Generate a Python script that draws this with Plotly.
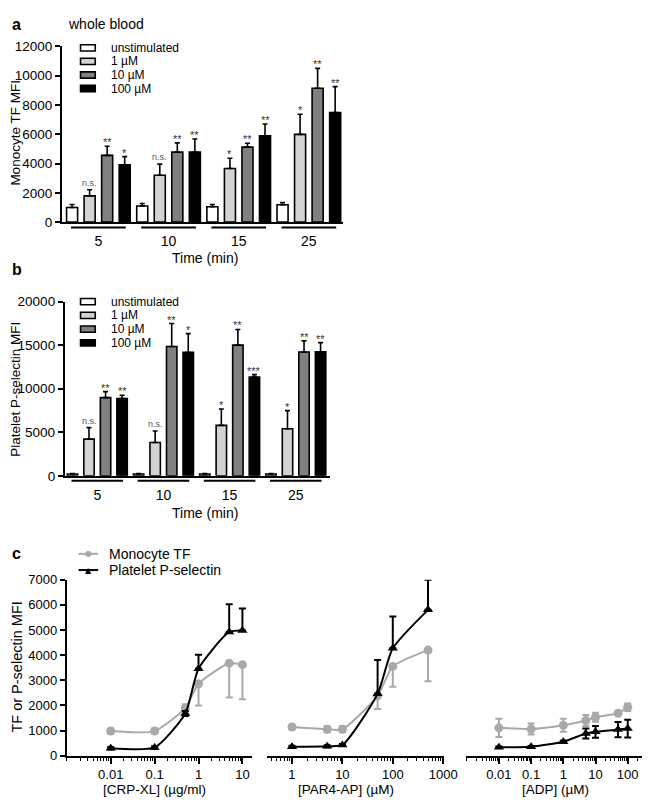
import plotly.graph_objects as go

W, H = 657, 811
OFF = 8  # page body margin offset of the rendered figure


def px_x(p):
    return (p - OFF) / W


def px_y(p):
    return 1 - (p - OFF) / H


FONT = "Arial, Liberation Sans, sans-serif"

# ---------------- data ----------------
time_labels = ["5", "10", "15", "25"]
conc_labels = ["unstimulated", "1 µM", "10 µM", "100 µM"]
bar_colors = ["#ffffff", "#d3d3d3", "#808080", "#000000"]

# panel a : Monocyte TF MFI (whole blood)
a_unstim = [1000, 1100, 1050, 1180]
a_unstim_err = [200, 170, 150, 150]
a_1uM = [1790, 3200, 3660, 5990]
a_1uM_err = [420, 760, 700, 1380]
a_10uM = [4560, 4780, 5120, 9140]
a_10uM_err = [620, 630, 270, 1360]
a_100uM = [3910, 4780, 5900, 7490]
a_100uM_err = [560, 900, 800, 1760]
a_sig_1uM = ["n.s.", "n.s.", "*", "*"]
a_sig_10uM = ["**", "**", "**", "**"]
a_sig_100uM = ["*", "**", "**", "**"]

# panel b : Platelet P-selectin MFI
b_unstim = [200, 200, 200, 200]
b_unstim_err = [60, 60, 60, 60]
b_1uM = [4210, 3830, 5790, 5410]
b_1uM_err = [1320, 1320, 1880, 2070]
b_10uM = [8980, 14850, 15000, 14210]
b_10uM_err = [680, 2630, 1800, 1280]
b_100uM = [8870, 14170, 11350, 14240]
b_100uM_err = [380, 2150, 270, 1050]
b_sig_1uM = ["n.s.", "n.s.", "*", "*"]
b_sig_10uM = ["**", "**", "**", "**"]
b_sig_100uM = ["**", "*", "***", "**"]

# panel c : concentration responses
crp_conc = [0.01, 0.1, 0.5, 1, 5, 10]
crp_tf = [980, 980, 1900, 2860, 3680, 3620]
crp_tf_err_up = [100, 100, 150, 0, 0, 0]
crp_tf_err_down = [100, 100, 150, 860, 1365, 1370]
crp_ps = [300, 330, 1680, 3460, 4920, 4980]
crp_ps_err_up = [50, 50, 100, 550, 1100, 870]
crp_ps_err_down = [50, 50, 100, 0, 0, 0]

par4_conc = [1, 5, 10, 50, 100, 500]
par4_tf = [1140, 1050, 1050, 2380, 3550, 4200]
par4_tf_err_up = [100, 120, 120, 0, 0, 0]
par4_tf_err_down = [100, 120, 120, 520, 805, 1235]
par4_ps = [360, 380, 430, 2460, 4270, 5800]
par4_ps_err_up = [40, 40, 40, 1350, 1270, 1200]
par4_ps_err_down = [40, 40, 40, 0, 0, 0]

adp_conc = [0.01, 0.1, 1, 5, 10, 50, 100]
adp_tf = [1110, 1060, 1210, 1400, 1530, 1690, 1930]
adp_tf_err = [360, 220, 260, 215, 180, 40, 150]
adp_ps = [340, 360, 560, 885, 950, 1040, 1080]
adp_ps_err = [30, 30, 40, 200, 230, 300, 350]

series_labels = ["Monocyte TF", "Platelet P-selectin"]
tf_color = "#a9a9a9"
ps_color = "#000000"

crp_ticks = [0.01, 0.1, 1, 10]
crp_ticktext = ["0.01", "0.1", "1", "10"]
par4_ticks = [1, 10, 100, 1000]
par4_ticktext = ["1", "10", "100", "1000"]
adp_ticks = [0.01, 0.1, 1, 10, 100]
adp_ticktext = ["0.01", "0.1", "1", "10", "100"]

# ---------------- figure ----------------
fig = go.Figure()
annotations = []
shapes = []

bar_offsets = [-0.375, -0.125, 0.125, 0.375]


def add_bar_panel(xa, ya, means, errs, sigs):
    for i, (m, e) in enumerate(zip(means, errs)):
        fig.add_trace(go.Bar(
            x=time_labels, y=m, name=conc_labels[i],
            marker=dict(color=bar_colors[i], line=dict(color="black", width=1.6)),
            error_y=dict(type="data", symmetric=False, array=e,
                         arrayminus=[0] * len(e), color="black",
                         thickness=1.6, width=2.5),
            xaxis=xa, yaxis=ya, showlegend=False,
        ))
    for i, sig in enumerate(sigs):
        if sig is None:
            continue
        for g, s in enumerate(sig):
            if not s:
                continue
            top = means[i][g] + errs[i][g]
            is_ns = s.startswith("n")
            annotations.append(dict(
                x=g + bar_offsets[i], y=top, xref=xa, yref=ya,
                text=s, showarrow=False, xanchor="center", yanchor="bottom",
                yshift=0 if is_ns else -4,
                font=dict(family=FONT, size=9 if is_ns else 11,
                          color="#555555" if is_ns else "#333333"),
            ))


add_bar_panel("x", "y", [a_unstim, a_1uM, a_10uM, a_100uM],
              [a_unstim_err, a_1uM_err, a_10uM_err, a_100uM_err],
              [None, a_sig_1uM, a_sig_10uM, a_sig_100uM])
add_bar_panel("x2", "y2", [b_unstim, b_1uM, b_10uM, b_100uM],
              [b_unstim_err, b_1uM_err, b_10uM_err, b_100uM_err],
              [None, b_sig_1uM, b_sig_10uM, b_sig_100uM])

# group underlines
for xa, ypix in (("x", 224.5), ("x2", 482.5)):
    for g in range(len(time_labels)):
        shapes.append(dict(type="line", xref=xa, yref="paper",
                           x0=g - 0.39, x1=g + 0.39,
                           y0=px_y(ypix), y1=px_y(ypix),
                           line=dict(color="black", width=2)))


def add_curve(xa, ya, x, y, up, down, color, symbol, name):
    fig.add_trace(go.Scatter(
        x=x, y=y, mode="lines+markers", name=name,
        line=dict(color=color, width=2, shape="spline", smoothing=0.6),
        marker=dict(color=color, size=9, symbol=symbol),
        error_y=dict(type="data", symmetric=False, array=up, arrayminus=down,
                     color=color, thickness=2, width=3.5),
        xaxis=xa, yaxis=ya, showlegend=False, cliponaxis=False,
    ))


add_curve("x3", "y3", crp_conc, crp_tf, crp_tf_err_up, crp_tf_err_down, tf_color, "circle", series_labels[0])
add_curve("x3", "y3", crp_conc, crp_ps, crp_ps_err_up, crp_ps_err_down, ps_color, "triangle-up", series_labels[1])
add_curve("x4", "y4", par4_conc, par4_tf, par4_tf_err_up, par4_tf_err_down, tf_color, "circle", series_labels[0])
add_curve("x4", "y4", par4_conc, par4_ps, par4_ps_err_up, par4_ps_err_down, ps_color, "triangle-up", series_labels[1])
add_curve("x5", "y5", adp_conc, adp_tf, adp_tf_err, adp_tf_err, tf_color, "circle", series_labels[0])
add_curve("x5", "y5", adp_conc, adp_ps, adp_ps_err, adp_ps_err, ps_color, "triangle-up", series_labels[1])

# ---------------- manual legends ----------------
for ytop, step in ((41.5, 13.8), (300, 14)):
    for i, lab in enumerate(conc_labels):
        yc = ytop + i * step
        shapes.append(dict(type="rect", xref="paper", yref="paper",
                           x0=px_x(82), x1=px_x(97), y0=px_y(yc + 3.2), y1=px_y(yc - 3.2),
                           fillcolor=bar_colors[i], line=dict(color="black", width=1.6)))
        annotations.append(dict(x=px_x(111), y=px_y(yc), xref="paper", yref="paper",
                                text=lab, showarrow=False, xanchor="left", yanchor="middle",
                                font=dict(family=FONT, size=12, color="black")))

for i, (lab, col, glyph) in enumerate(zip(series_labels, [tf_color, ps_color], ["●", "▲"])):
    yc = 557 + i * 16.5
    shapes.append(dict(type="line", xref="paper", yref="paper",
                       x0=px_x(80), x1=px_x(100), y0=px_y(yc), y1=px_y(yc),
                       line=dict(color=col, width=2)))
    annotations.append(dict(x=px_x(90), y=px_y(yc), xref="paper", yref="paper",
                            text=glyph, showarrow=False, xanchor="center", yanchor="middle",
                            font=dict(family="DejaVu Sans", size=8, color=col)))
    annotations.append(dict(x=px_x(109), y=px_y(yc), xref="paper", yref="paper",
                            text=lab, showarrow=False, xanchor="left", yanchor="middle",
                            font=dict(family=FONT, size=14, color="black")))


# ---------------- text labels ----------------
def txt(x, y, s, size=14, bold=False, angle=0, anchor="center"):
    annotations.append(dict(x=px_x(x), y=px_y(y), xref="paper", yref="paper",
                            text=f"<b>{s}</b>" if bold else s, showarrow=False,
                            xanchor=anchor, yanchor="middle", textangle=angle,
                            font=dict(family=FONT, size=size, color="black")))


txt(17, 18, "a", size=16, bold=True)
txt(67, 17, "whole blood", size=14, anchor="left")
txt(17, 267, "b", size=16, bold=True)
txt(17, 557, "c", size=16, bold=True)
txt(16, 128, "Monocyte TF MFI", size=13.5, angle=-90)
txt(16, 389, "Platelet P-selectin MFI", size=13.5, angle=-90)
txt(17, 672, "TF or P-selectin MFI", size=14.5, angle=-90)
txt(209, 256, "Time (min)")
txt(209, 515, "Time (min)")
txt(157, 797, "[CRP-XL] (µg/ml)", size=13.5)
txt(353, 797, "[PAR4-AP] (µM)", size=13.5)
txt(567, 797, "[ADP] (µM)", size=13.5)

# ---------------- axes ----------------
axis_common = dict(showline=True, linecolor="black", linewidth=2, showgrid=False,
                   zeroline=False, tickcolor="black", tickwidth=1.6,
                   tickfont=dict(family=FONT, size=13.5, color="black"))

cat_x = dict(axis_common, type="category", ticks="", ticklabelstandoff=5,
             tickfont=dict(family=FONT, size=14, color="black"),
             categoryorder="array", categoryarray=time_labels)

log_x = dict(axis_common, type="log", ticks="outside", ticklen=6, tickmode="array",
             tickfont=dict(family=FONT, size=13, color="black"),
             minor=dict(ticks="outside", ticklen=3, dtick="D1", tickcolor="black",
                        tickwidth=1.2, showgrid=False))

fig.update_layout(
    width=W, height=H, margin=dict(l=0, r=0, t=0, b=0),
    paper_bgcolor="white", plot_bgcolor="white",
    barmode="group", bargap=0, bargroupgap=0.37,
    showlegend=False,
    xaxis=dict(cat_x, domain=[px_x(63), px_x(350)], range=[-0.52, 3.49], anchor="y"),
    yaxis=dict(axis_common, domain=[px_y(219), px_y(40)], range=[0, 12000], dtick=2000,
               tickformat="d", ticks="outside", ticklen=5, anchor="x"),
    xaxis2=dict(cat_x, domain=[px_x(66), px_x(336)], range=[-0.49, 3.51], anchor="y2"),
    yaxis2=dict(axis_common, domain=[px_y(477.5), px_y(300)], range=[0, 20000], dtick=5000,
                tickformat="d", ticks="outside", ticklen=5, anchor="x2"),
    xaxis3=dict(log_x, domain=[px_x(68), px_x(257)], range=[-3, 1.22], anchor="y3",
                tickvals=crp_ticks, ticktext=crp_ticktext),
    yaxis3=dict(axis_common, domain=[px_y(762.7), px_y(583.3)], range=[0, 7000], dtick=1000,
                tickformat="d", ticks="outside", ticklen=5, anchor="x3",
                tickfont=dict(family=FONT, size=13, color="black")),
    xaxis4=dict(log_x, domain=[px_x(272), px_x(453)], range=[-0.5, 3.02], anchor="y4",
                tickvals=par4_ticks, ticktext=par4_ticktext),
    yaxis4=dict(domain=[px_y(762.7), px_y(583.3)], range=[0, 7000], visible=False, anchor="x4"),
    xaxis5=dict(log_x, domain=[px_x(475), px_x(655)], range=[-3.03, 2.45], anchor="y5",
                tickvals=adp_ticks, ticktext=adp_ticktext),
    yaxis5=dict(domain=[px_y(762.7), px_y(583.3)], range=[0, 7000], visible=False, anchor="x5"),
    annotations=annotations,
    shapes=shapes,
)

fig.write_html("out.html")
